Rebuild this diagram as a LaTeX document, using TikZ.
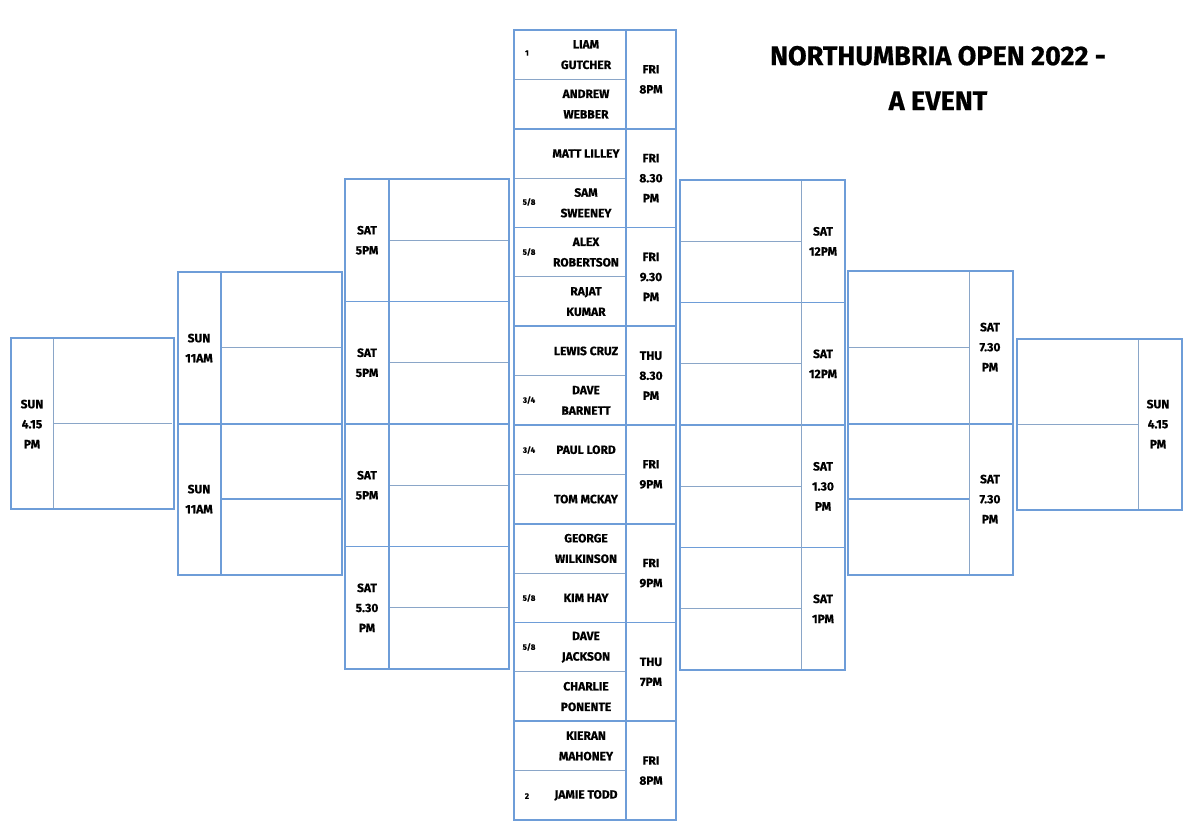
\documentclass[tikz,border=0pt]{standalone}
\usepackage{fontspec}
\setmainfont{Fira Sans}[FakeBold=0.6]
\begin{document}
\begin{tikzpicture}[x=1pt,y=-1pt,
  frame/.style={draw=bblue,line width=2.4pt},
  blk/.style={draw=bblue,line width=1.6pt},
  half/.style={draw=hgrey,line width=0.9pt},
  nm/.style={font=\bfseries\fontsize{12}{20.5}\selectfont,align=center,inner sep=0pt},
  tm/.style={font=\bfseries\fontsize{12}{20}\selectfont,align=center,inner sep=0pt},
  sd/.style={font=\bfseries\fontsize{8}{9}\selectfont,inner sep=0pt}]
\definecolor{bblue}{HTML}{6E9DD8}
\definecolor{hgrey}{HTML}{8AA6C8}
\useasboundingbox (0,0) rectangle (1200,833);
% ---------- centre column ----------
\def\ct{30}\def\ch{98.75}
\foreach \i in {0,...,7}{
  \draw[blk] (514,{\ct+\i*\ch}) -- (676,{\ct+\i*\ch});
  \draw[half] (514,{\ct+(\i+0.5)*\ch}) -- (626,{\ct+(\i+0.5)*\ch});
}
\draw[blk] (626,30) -- (626,820);
\draw[frame] (514,30) rectangle (676,820);
\foreach \t [count=\i from 0] in {FRI\\8PM,FRI\\8.30\\PM,FRI\\9.30\\PM,THU\\8.30\\PM,FRI\\9PM,FRI\\9PM,THU\\7PM,FRI\\8PM}
  \node[tm] (ct\i) at (651,{\ct+(\i+0.5)*\ch}) {\t};
\foreach \n [count=\i from 0] in {LIAM\\GUTCHER,ANDREW\\WEBBER,MATT LILLEY,SAM\\SWEENEY,ALEX\\ROBERTSON,RAJAT\\KUMAR,LEWIS CRUZ,DAVE\\BARNETT,PAUL LORD,TOM MCKAY,GEORGE\\WILKINSON,KIM HAY,DAVE\\JACKSON,CHARLIE\\PONENTE,KIERAN\\MAHONEY,JAMIE TODD}
  \node[nm] (cn\i) at (586,{\ct+(\i+0.5)*\ch/2}) {\n};
\node[sd] (s0) at (527,53) {1};
\node[sd] (s3) at (529,202) {5/8};
\node[sd] (s4) at (529,252) {5/8};
\node[sd] (s7) at (529,400) {3/4};
\node[sd] (s8) at (529,450) {3/4};
\node[sd] (s11) at (529,598) {5/8};
\node[sd] (s12) at (529,647) {5/8};
\node[sd] (s15) at (527,796) {2};
% ---------- left L3 ----------
\foreach \i in {1,2,3}\draw[blk] (345,{179+\i*122.5}) -- (509,{179+\i*122.5});
\foreach \i in {0,...,3}\draw[half] (389,{179+(\i+0.5)*122.5}) -- (509,{179+(\i+0.5)*122.5});
\draw[blk] (389,179) -- (389,669);
\draw[frame] (345,179) rectangle (509,669);
\foreach \t [count=\i from 0] in {SAT\\5PM,SAT\\5PM,SAT\\5PM,SAT\\5.30\\PM}
  \node[tm] (l3t\i) at (367,{179+(\i+0.5)*122.5}) {\t};
% ---------- right R3 ----------
\foreach \i in {1,2,3}\draw[blk] (680,{180+\i*122.5}) -- (845,{180+\i*122.5});
\foreach \i in {0,...,3}\draw[half] (680,{180+(\i+0.5)*122.5}) -- (801,{180+(\i+0.5)*122.5});
\draw[half] (801,180) -- (801,670);
\draw[frame] (680,180) rectangle (845,670);
\foreach \t [count=\i from 0] in {SAT\\12PM,SAT\\12PM,SAT\\1.30\\PM,SAT\\1PM}
  \node[tm] (r3t\i) at (823,{180+(\i+0.5)*122.5}) {\t};
% ---------- left L2 ----------
\draw[blk] (178,424) -- (342,424);
\draw[half] (221,347) -- (342,347);
\draw[blk] (221,499) -- (342,499);
\draw[blk] (221,272) -- (221,575);
\draw[frame] (178,272) rectangle (342,575);
\node[tm] (l2t0) at (199,348) {SUN\\11AM};
\node[tm] (l2t1) at (199,499) {SUN\\11AM};
% ---------- right R2 ----------
\draw[blk] (848,424) -- (1013,424);
\draw[half] (848,347) -- (969,347);
\draw[blk] (848,499) -- (969,499);
\draw[half] (969,271) -- (969,575);
\draw[frame] (848,271) rectangle (1013,575);
\node[tm] (r2t0) at (990,347) {SAT\\7.30\\PM};
\node[tm] (r2t1) at (990,499) {SAT\\7.30\\PM};
% ---------- left L1 ----------
\draw[half] (53,423) -- (172,423);
\draw[half] (53,338) -- (53,509);
\draw[frame] (11,338) rectangle (174,509);
\node[tm] (l1t) at (32,424) {SUN\\4.15\\PM};
% ---------- right R1 ----------
\draw[half] (1017,424) -- (1138,424);
\draw[half] (1138,339) -- (1138,510);
\draw[frame] (1017,339) rectangle (1182,510);
\node[tm] (r1t) at (1158,424) {SUN\\4.15\\PM};
% ---------- title ----------
\node[font=\bfseries\fontsize{27}{45}\selectfont,align=center,inner sep=0pt] (title) at (938,78) {NORTHUMBRIA OPEN 2022 -\\A EVENT};
\end{tikzpicture}
\end{document}
